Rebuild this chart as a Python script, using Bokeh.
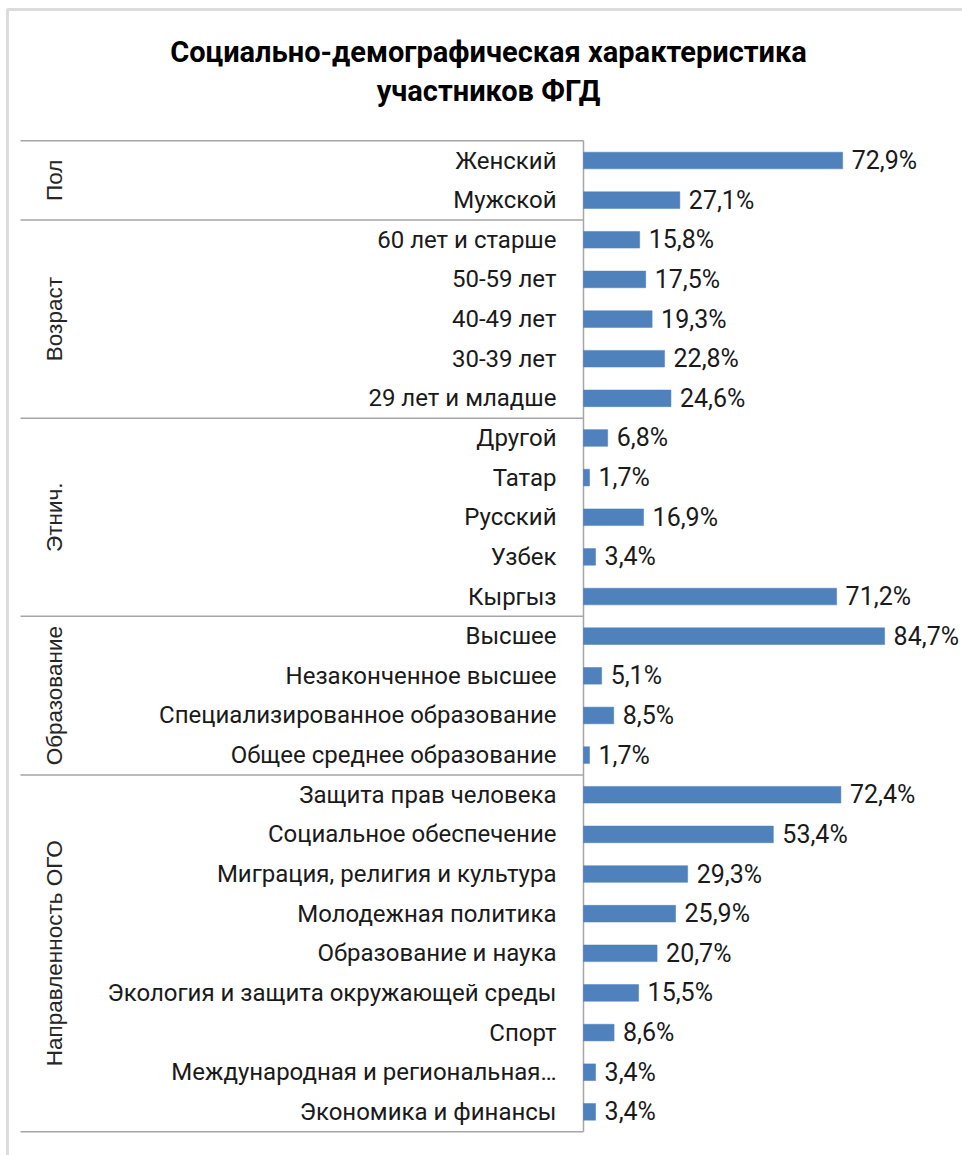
import itertools
from bokeh.plotting import figure
from bokeh.models import ColumnDataSource, Range1d, BoxAnnotation
from bokeh.core.properties import value
from bokeh.embed import file_html
from bokeh.resources import INLINE

# ---------------- data ----------------
title_lines = ["Социально-демографическая характеристика", "участников ФГД"]

group_names = ["Пол", "Возраст", "Этнич.", "Образование", "Направленность ОГО"]
group_sizes = [2, 5, 5, 4, 9]

categories = [
    "Женский", "Мужской",
    "60 лет и старше", "50-59 лет", "40-49 лет", "30-39 лет", "29 лет и младше",
    "Другой", "Татар", "Русский", "Узбек", "Кыргыз",
    "Высшее", "Незаконченное высшее", "Специализированное образование",
    "Общее среднее образование",
    "Защита прав человека", "Социальное обеспечение",
    "Миграция, религия и культура", "Молодежная политика",
    "Образование и наука", "Экология и защита окружающей среды", "Спорт",
    "Международная и региональная…", "Экономика и финансы",
]
values = [
    72.9, 27.1,
    15.8, 17.5, 19.3, 22.8, 24.6,
    6.8, 1.7, 16.9, 3.4, 71.2,
    84.7, 5.1, 8.5, 1.7,
    72.4, 53.4, 29.3, 25.9, 20.7, 15.5, 8.6, 3.4, 3.4,
]

# ---------------- layout constants ----------------
W, H = 962, 1155
ZERO_PX = 583          # pixel where bars start
PX_PER_PCT = 3.555     # pixels per percent
ROW0_PX = 160          # pixel centre of first row
ROW_PX = 39.64         # row pitch in pixels

def px_to_x(px):
    return (px - ZERO_PX) / PX_PER_PCT

def py_to_y(py):
    return (py - ROW0_PX) / ROW_PX

x_start, x_end = px_to_x(0), px_to_x(W)
y_top, y_bot = py_to_y(0), py_to_y(H)

p = figure(width=W, height=H,
           x_range=Range1d(x_start, x_end), y_range=Range1d(y_bot, y_top),
           output_backend="svg", toolbar_location=None,
           x_axis_location=None, y_axis_location=None,
           min_border=0, min_border_left=0, min_border_right=0,
           min_border_top=0, min_border_bottom=0,
           outline_line_color=None, background_fill_color="white",
           border_fill_color="white")
p.xgrid.visible = False
p.ygrid.visible = False

rows = list(range(len(categories)))
labels = [f"{v:.1f}".replace(".", ",") + "%" for v in values]
src = ColumnDataSource(dict(row=rows, cat=categories, val=values, lab=labels))

# group boundaries
cum = list(itertools.accumulate(group_sizes))
bounds = [-0.5] + [c - 0.5 for c in cum]
gsrc = ColumnDataSource(dict(
    name=group_names,
    mid=[(bounds[i] + bounds[i + 1]) / 2 for i in range(len(group_names))],
))

# outer chart border (left + top visible)
p.add_layout(BoxAnnotation(left=px_to_x(7), top=py_to_y(9),
                           right=x_end + 10, bottom=y_bot + 2,
                           fill_alpha=0, line_color="#8c8c8c", line_width=3))

# separators
p.segment(x0=px_to_x(20), x1=0, y0=bounds, y1=bounds,
          line_color="#a6a6a6", line_width=1.5)
p.segment(x0=[0], x1=[0], y0=[bounds[0]], y1=[bounds[-1]],
          line_color="#a6a6a6", line_width=1.5)

# bars
p.hbar(y="row", left=0, right="val", height=0.42, source=src,
       fill_color="#4f81bd", line_color="#4a7ebb", line_width=0.5)

# category labels
p.text(x=0, y="row", text="cat", source=src, x_offset=-27,
       text_align="right", text_baseline="middle",
       text_font=value("Roboto"), text_font_size="24px", text_color="#1a1a1a")

# value labels
p.text(x="val", y="row", text="lab", source=src, x_offset=9,
       text_align="left", text_baseline="middle",
       text_font=value("Roboto"), text_font_size="25px", text_color="#1a1a1a")

# group labels (rotated)
p.text(x=px_to_x(54), y="mid", text="name", source=gsrc, angle=1.5708,
       text_align="center", text_baseline="middle",
       text_font=value("Liberation Sans"), text_font_size="22.5px",
       text_color="#262626")

# title
p.text(x=[px_to_x(488)] * 2, y=[py_to_y(51), py_to_y(90)], text=title_lines,
       text_align="center", text_baseline="middle",
       text_font=value("Roboto"), text_font_size="29px",
       text_font_style="bold", text_color="#000000")

open("out.html", "w").write(file_html(p, INLINE))
